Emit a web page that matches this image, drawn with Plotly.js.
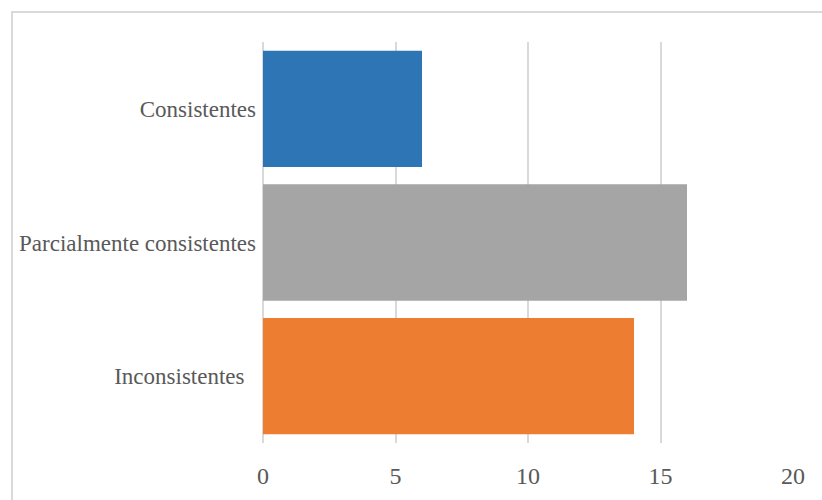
<!DOCTYPE html>
<html>
<head>
<meta charset="utf-8">
<script src="https://cdn.plot.ly/plotly-3.0.1.min.js"></script>
<style>
  html, body { margin: 0; padding: 0; background: #ffffff; }
  #frame {
    position: absolute; left: 11px; top: 11px; width: 811px; height: 489px;
    border-left: 2px solid #d9d9d9; border-top: 2px solid #d9d9d9;
    box-sizing: border-box;
  }
  #chart { position: absolute; left: 0; top: 0; width: 822px; height: 500px; }
</style>
</head>
<body>
<div id="frame"></div>
<div id="chart"></div>
<script>
// Categories listed top to bottom
const categories = ["Consistentes", "Parcialmente consistentes", "Inconsistentes\u00a0\u00a0"];
const values = [6, 16, 14];
const barColors = ["#2E75B6", "#A5A5A5", "#ED7D31"];
const xTicks = [0, 5, 10, 15, 20];

const fontFamily = "'Liberation Serif', 'DejaVu Serif', serif";

const trace = {
  type: "bar",
  orientation: "h",
  y: categories,
  x: values,
  marker: { color: barColors },
  hoverinfo: "x+y"
};

const layout = {
  width: 822,
  height: 500,
  margin: { l: 263, r: 29, t: 42, b: 57 },
  paper_bgcolor: "rgba(0,0,0,0)",
  plot_bgcolor: "rgba(0,0,0,0)",
  showlegend: false,
  bargap: 0.13,
  font: { family: fontFamily, color: "#595959", size: 23 },
  xaxis: {
    range: [0, 20],
    tickvals: xTicks,
    ticktext: xTicks.map(String),
    showgrid: true,
    gridcolor: "#d9d9d9",
    gridwidth: 2,
    zeroline: true,
    zerolinecolor: "#d9d9d9",
    zerolinewidth: 2,
    showline: false,
    ticks: "",
    ticklabelstandoff: 16,
    tickfont: { size: 24, color: "#595959", family: fontFamily },
    fixedrange: true
  },
  yaxis: {
    type: "category",
    autorange: "reversed",
    showgrid: false,
    zeroline: false,
    showline: false,
    ticks: "",
    ticklabelstandoff: 6,
    tickfont: { size: 23, color: "#595959", family: fontFamily },
    fixedrange: true
  }
};

Plotly.newPlot("chart", [trace], layout, { displayModeBar: false, staticPlot: true });
</script>
</body>
</html>
